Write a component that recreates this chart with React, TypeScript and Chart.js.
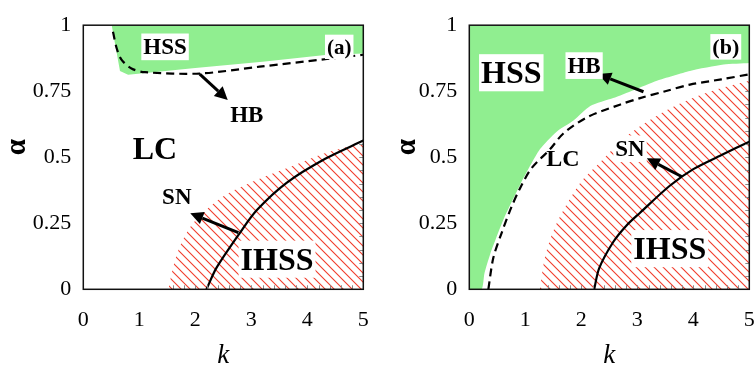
import React, { useEffect, useRef } from "react";
import { Chart, registerables } from "chart.js";
Chart.register(...registerables);

// ---- axis ranges / ticks ----
const kRange = [0, 5];
const alphaRange = [0, 1];
const kStep = 1;
const alphaStep = 0.25;
const alphaTickLabels = ["0", "0.25", "0.5", "0.75", "1"];
const kTickLabels = ["0", "1", "2", "3", "4", "5"];
const kMinorStep = 0.2;
const alphaMinorStep = 0.05;

// ---- panel (a) curves: [k, alpha] ----
const hssA: number[][] = [[0.507, 1], [0.655, 0.827], [0.8, 0.812], [2.0, 0.838], [3.2, 0.862], [4.32, 0.887], [5, 0.893]];
const hbA: number[][] = [[0.53, 0.975], [0.6, 0.91], [0.685, 0.869], [0.86, 0.836], [1.1, 0.822], [2.08, 0.817], [3.15, 0.843], [4.35, 0.872], [5, 0.888]];
const ihssA: number[][] = [[1.52, 0], [1.6, 0.08], [1.72, 0.16], [1.96, 0.25], [2.45, 0.345], [3.0, 0.405], [3.63, 0.458], [4.35, 0.518], [5, 0.553]];
const snA: number[][] = [[2.2, 0], [2.38, 0.082], [2.8, 0.215], [3.1, 0.3], [3.63, 0.403], [4.32, 0.494], [5, 0.563]];

// ---- panel (b) curves ----
const hssB: number[][] = [[0, 0], [0.22, 0], [0.27, 0.06], [0.37, 0.131], [0.61, 0.264], [0.91, 0.397], [1.26, 0.53], [1.56, 0.597], [1.86, 0.639], [2.16, 0.694], [2.57, 0.724], [2.93, 0.754], [3.35, 0.79], [3.94, 0.827], [4.54, 0.851], [5, 0.857]];
const hbB: number[][] = [[0.34, 0], [0.43, 0.12], [0.58, 0.215], [0.75, 0.31], [0.9, 0.38], [1.11, 0.458], [1.44, 0.53], [1.68, 0.59], [2.1, 0.651], [2.7, 0.7], [3.05, 0.724], [3.5, 0.75], [3.94, 0.775], [4.5, 0.795], [5, 0.814]];
const ihssB: number[][] = [[1.26, 0], [1.36, 0.13], [1.56, 0.25], [1.97, 0.4], [2.33, 0.48], [2.7, 0.56], [3.0, 0.61], [3.5, 0.675], [4.0, 0.725], [4.5, 0.762], [5, 0.79]];
const snB: number[][] = [[2.23, 0], [2.32, 0.08], [2.57, 0.179], [2.8, 0.24], [3.05, 0.29], [3.58, 0.392], [4.0, 0.455], [4.54, 0.512], [5, 0.559]];

// ---- annotations ----
type Lbl = { text: string; k: number; a: number; size: number; box: boolean };
type Arr = { from: number[]; to: number[] };

const labelsA: Lbl[] = [
  { text: "HSS", k: 1.46, a: 0.918, size: 23, box: true },
  { text: "(a)", k: 4.57, a: 0.918, size: 21, box: true },
  { text: "HB", k: 2.92, a: 0.662, size: 23, box: false },
  { text: "LC", k: 1.28, a: 0.535, size: 32, box: false },
  { text: "SN", k: 1.67, a: 0.35, size: 23, box: false },
  { text: "IHSS", k: 3.46, a: 0.114, size: 32, box: true },
];
const arrowsA: Arr[] = [
  { from: [2.08, 0.815], to: [2.58, 0.717] },
  { from: [2.77, 0.215], to: [1.91, 0.288] },
];
const labelsB: Lbl[] = [
  { text: "HSS", k: 0.75, a: 0.82, size: 32, box: true },
  { text: "HB", k: 2.05, a: 0.847, size: 23, box: true },
  { text: "(b)", k: 4.58, a: 0.918, size: 22, box: true },
  { text: "LC", k: 1.67, a: 0.495, size: 24, box: false },
  { text: "SN", k: 2.87, a: 0.532, size: 23, box: true },
  { text: "IHSS", k: 3.58, a: 0.154, size: 32, box: true },
];
const arrowsB: Arr[] = [
  { from: [3.11, 0.748], to: [2.3, 0.815] },
  { from: [3.79, 0.427], to: [3.17, 0.496] },
];

const FONT = '"Liberation Serif", "Times New Roman", serif';
const GREEN = "#90ee90";

function hatchPattern(): CanvasPattern | string {
  const c = document.createElement("canvas");
  const s = 9;
  c.width = s;
  c.height = s;
  const g = c.getContext("2d")!;
  g.strokeStyle = "#f03a2a";
  g.lineWidth = 1.1;
  for (const off of [-s, 0, s]) {
    g.beginPath();
    g.moveTo(off - 1, -1);
    g.lineTo(off + s + 1, s + 1);
    g.stroke();
  }
  const ctx = document.createElement("canvas").getContext("2d")!;
  return ctx.createPattern(c, "repeat") || "#f03a2a";
}

const toPts = (arr: number[][]) => arr.map(([x, y]) => ({ x, y }));

type PanelCfg = {
  hss: number[][];
  hb: number[][];
  ihss: number[][];
  sn: number[][];
  labels: Lbl[];
  arrows: Arr[];
  yWidth: number;
  rightPad: number;
  alphaDx: number;
  hssTension: number;
};

function makeChart(canvas: HTMLCanvasElement, cfg: PanelCfg) {
  const pattern = hatchPattern();
  const overlay = {
    id: "overlay",
    afterDatasetsDraw(chart: any) {
      const ctx: CanvasRenderingContext2D = chart.ctx;
      const xs = chart.scales.x;
      const ys = chart.scales.y;
      const ca = chart.chartArea;
      ctx.save();
      // minor ticks inside the hatched zone (bottom and right edges)
      ctx.strokeStyle = "#888";
      ctx.lineWidth = 1;
      const kStart = cfg.ihss[0][0];
      const aEnd = cfg.ihss[cfg.ihss.length - 1][1];
      for (let v = Math.ceil(kStart / kMinorStep) * kMinorStep; v < kRange[1] - 1e-6; v += kMinorStep) {
        const px = Math.round(xs.getPixelForValue(v)) + 0.5;
        ctx.beginPath();
        ctx.moveTo(px, ca.bottom);
        ctx.lineTo(px, ca.bottom - 4);
        ctx.stroke();
      }
      for (let v = alphaMinorStep; v < aEnd; v += alphaMinorStep) {
        const py = Math.round(ys.getPixelForValue(v)) + 0.5;
        ctx.beginPath();
        ctx.moveTo(ca.right, py);
        ctx.lineTo(ca.right - 4, py);
        ctx.stroke();
      }
      // arrows
      for (const a of cfg.arrows) {
        const x1 = xs.getPixelForValue(a.from[0]);
        const y1 = ys.getPixelForValue(a.from[1]);
        const x2 = xs.getPixelForValue(a.to[0]);
        const y2 = ys.getPixelForValue(a.to[1]);
        const ang = Math.atan2(y2 - y1, x2 - x1);
        const hl = 13;
        const hw = 6.5;
        const bx = x2 - hl * Math.cos(ang);
        const by = y2 - hl * Math.sin(ang);
        ctx.strokeStyle = "#000";
        ctx.lineWidth = 3;
        ctx.beginPath();
        ctx.moveTo(x1, y1);
        ctx.lineTo(bx, by);
        ctx.stroke();
        ctx.fillStyle = "#000";
        ctx.beginPath();
        ctx.moveTo(x2, y2);
        ctx.lineTo(bx + hw * Math.sin(ang), by - hw * Math.cos(ang));
        ctx.lineTo(bx - hw * Math.sin(ang), by + hw * Math.cos(ang));
        ctx.closePath();
        ctx.fill();
      }
      // labels
      for (const l of cfg.labels) {
        const cx = xs.getPixelForValue(l.k);
        const cy = ys.getPixelForValue(l.a);
        ctx.font = `bold ${l.size}px ${FONT}`;
        const w = ctx.measureText(l.text).width;
        if (l.box) {
          ctx.fillStyle = "#fff";
          ctx.fillRect(cx - w / 2 - 2, cy - l.size * 0.58, w + 4, l.size * 1.16);
        }
        ctx.fillStyle = "#000";
        ctx.textAlign = "center";
        ctx.textBaseline = "alphabetic";
        ctx.fillText(l.text, cx, cy + l.size * 0.33);
      }
      // frame
      ctx.strokeStyle = "#111";
      ctx.lineWidth = 1.5;
      ctx.strokeRect(ca.left, ca.top, ca.right - ca.left, ca.bottom - ca.top);
      // axis titles
      ctx.fillStyle = "#000";
      ctx.textAlign = "center";
      ctx.textBaseline = "alphabetic";
      ctx.font = `italic 27px ${FONT}`;
      ctx.fillText("k", (ca.left + ca.right) / 2, 363);
      ctx.save();
      ctx.translate(ca.left - cfg.alphaDx, (ca.top + ca.bottom) / 2 - 10);
      ctx.rotate(-Math.PI / 2);
      ctx.font = `bold 29px ${FONT}`;
      ctx.textBaseline = "middle";
      ctx.fillText("α", 0, 0);
      ctx.restore();
      ctx.restore();
    },
  };

  return new Chart(canvas, {
    type: "line",
    data: {
      datasets: [
        { data: toPts(cfg.hb), borderColor: "#000", borderWidth: 2.2, borderDash: [8, 5], pointRadius: 0, fill: false, tension: 0.3, order: 0 },
        { data: toPts(cfg.sn), borderColor: "#000", borderWidth: 2.2, pointRadius: 0, fill: false, tension: 0.3, order: 0 },
        { data: toPts(cfg.ihss), borderWidth: 0, borderColor: "rgba(0,0,0,0)", backgroundColor: pattern as any, pointRadius: 0, fill: "start", tension: 0.3, order: 1 },
        { data: toPts(cfg.hss), borderWidth: 0, borderColor: "rgba(0,0,0,0)", backgroundColor: GREEN, pointRadius: 0, fill: "end", tension: cfg.hssTension, order: 2 },
      ],
    },
    options: {
      animation: false,
      responsive: false,
      devicePixelRatio: 1,
      events: [],
      layout: { padding: { left: 0, right: cfg.rightPad, top: 14, bottom: 0 } },
      plugins: { legend: { display: false }, tooltip: { enabled: false }, title: { display: false } },
      scales: {
        x: {
          type: "linear",
          min: kRange[0],
          max: kRange[1],
          grid: { display: false, drawTicks: false },
          border: { display: false },
          ticks: {
            stepSize: kStep,
            color: "#000",
            padding: 18,
            font: { family: FONT, size: 22 },
            callback: (v: number) => kTickLabels[Math.round(v / kStep)] ?? "",
          },
          afterFit: (s: any) => {
            s.height = 82.7;
            s.paddingLeft = 5;
            s.paddingRight = 5;
          },
        },
        y: {
          type: "linear",
          min: alphaRange[0],
          max: alphaRange[1],
          grid: { display: false, drawTicks: false },
          border: { display: false },
          ticks: {
            stepSize: alphaStep,
            color: "#000",
            padding: 12,
            font: { family: FONT, size: 22 },
            callback: (v: number) => alphaTickLabels[Math.round(v / alphaStep)] ?? "",
          },
          afterFit: (s: any) => { s.width = cfg.yWidth; },
        },
      },
    },
    plugins: [overlay],
  } as any);
}

export default function App() {
  const refA = useRef<HTMLCanvasElement>(null);
  const refB = useRef<HTMLCanvasElement>(null);
  useEffect(() => {
    const a = makeChart(refA.current!, { hss: hssA, hb: hbA, ihss: ihssA, sn: snA, labels: labelsA, arrows: arrowsA, yWidth: 83.3, rightPad: 14.7, alphaDx: 66, hssTension: 0 });
    const b = makeChart(refB.current!, { hss: hssB, hb: hbB, ihss: ihssB, sn: snB, labels: labelsB, arrows: arrowsB, yWidth: 91.3, rightPad: 6.7, alphaDx: 62, hssTension: 0.2 });
    return () => {
      a.destroy();
      b.destroy();
    };
  }, []);
  return (
    <div style={{ position: "absolute", left: 0, top: 0, width: 756, height: 372, background: "#fff", display: "flex" }}>
      <canvas ref={refA} width={378} height={372} style={{ width: 378, height: 372, display: "block" }} />
      <canvas ref={refB} width={378} height={372} style={{ width: 378, height: 372, display: "block" }} />
    </div>
  );
}
